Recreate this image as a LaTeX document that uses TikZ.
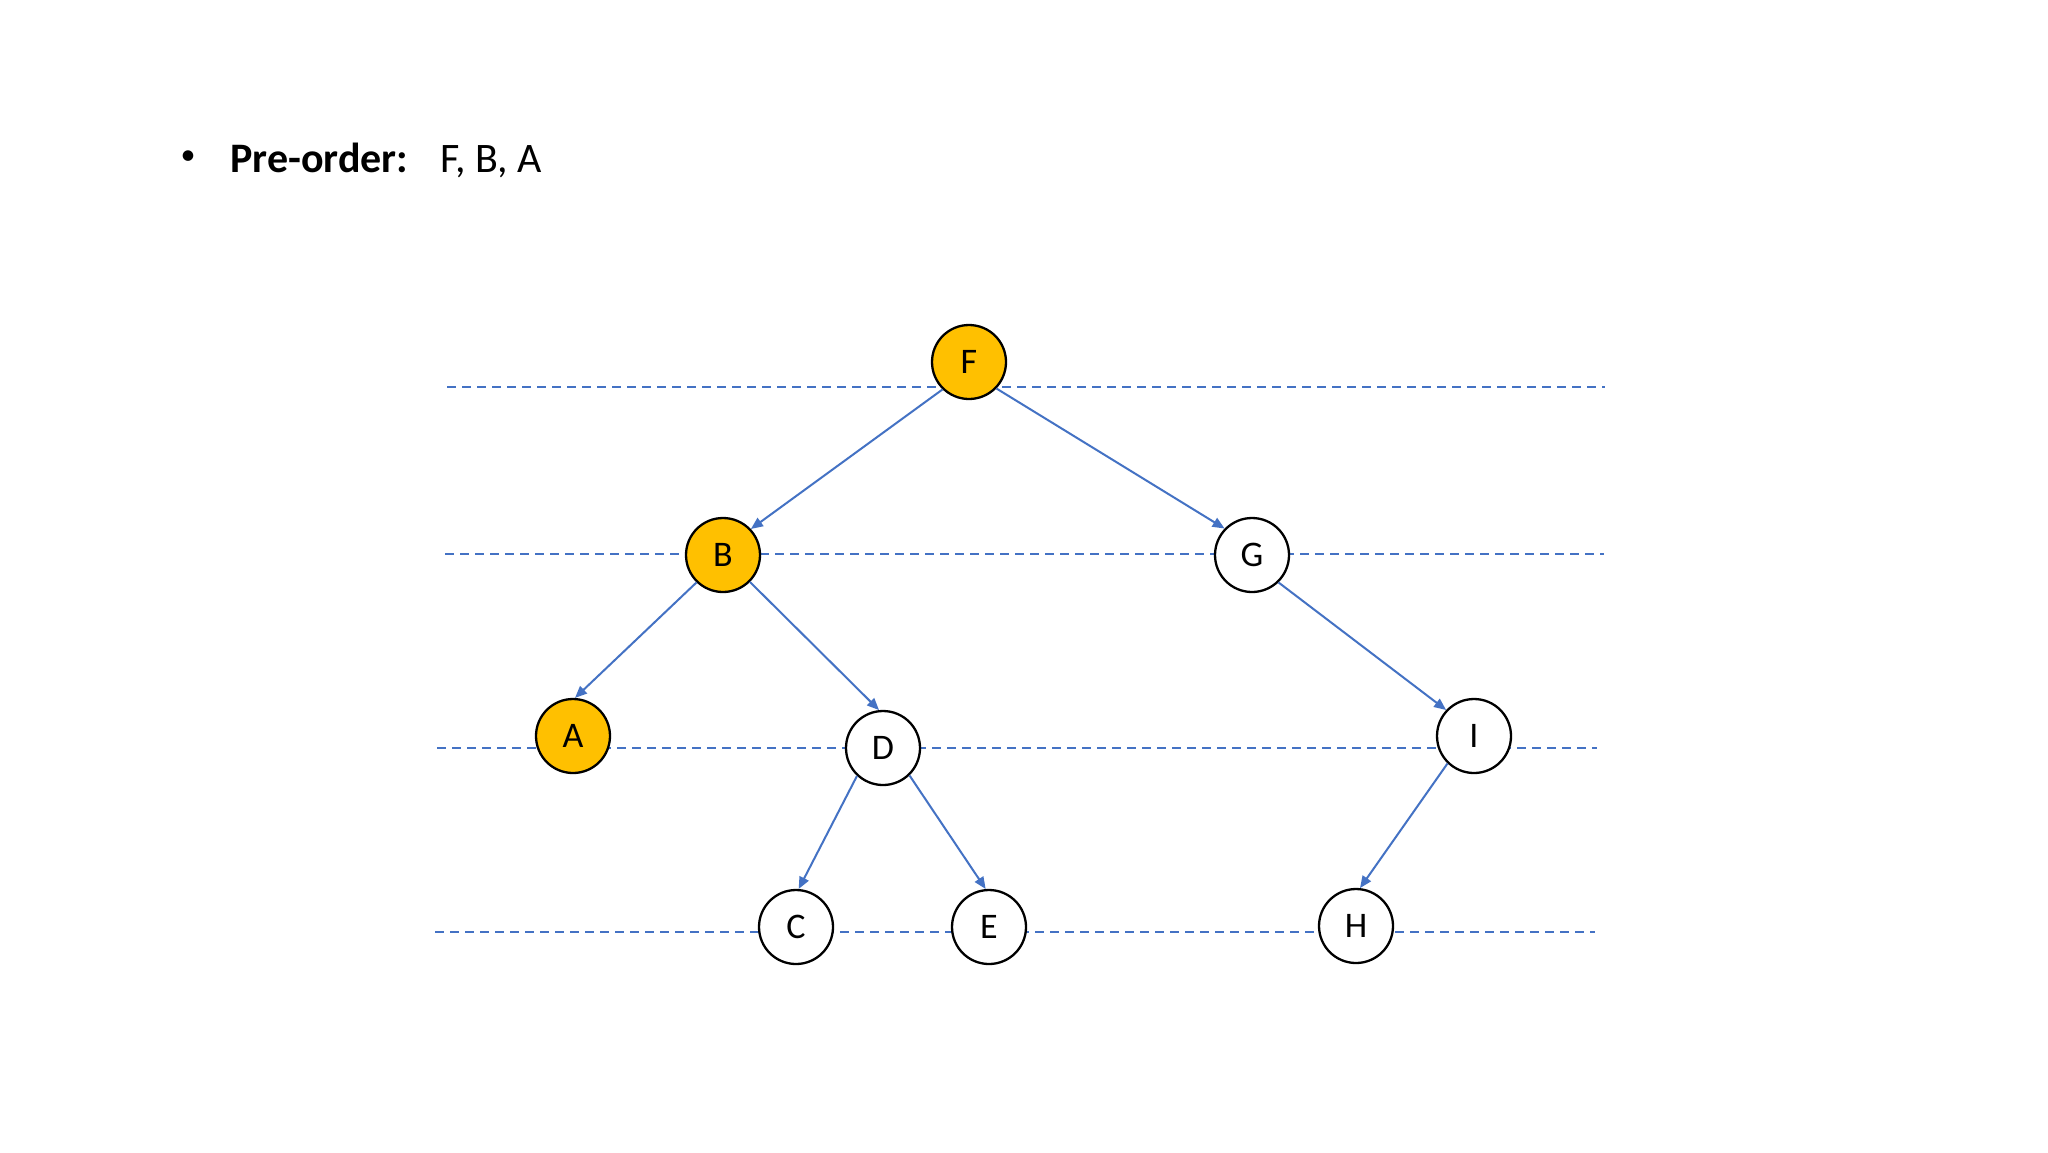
\documentclass[tikz,border=0pt]{standalone}
\usepackage{fontspec}
\setmainfont{Carlito}
\usetikzlibrary{arrows.meta}
\definecolor{treeorange}{HTML}{FFC000}
\definecolor{treeblue}{HTML}{4472C4}
\begin{document}
\begin{tikzpicture}[x=0.5pt,y=-0.5pt,
  treenode/.style={circle, draw=black, line width=1.15pt, fill=white, minimum size=37pt, inner sep=0pt, font=\fontsize{18}{20}\selectfont},
  visited/.style={treenode, fill=treeorange},
  levelline/.style={draw=treeblue, line width=1pt, dash pattern=on 4.5pt off 3pt},
  edge/.style={draw=treeblue, line width=1pt, -{Triangle[length=6pt,width=5pt]}},
  textlabel/.style={anchor=base west, inner sep=0pt, font=\fontsize{21}{25}\selectfont}]
\useasboundingbox[fill=white] (0,0) rectangle (2048,1152);
% level lines
\coordinate (l1a) at (447,387); \coordinate (l1b) at (1605,387);
\coordinate (l2a) at (445,554); \coordinate (l2b) at (1604,554);
\coordinate (l3a) at (437,748); \coordinate (l3b) at (1597,748);
\coordinate (l4a) at (435,932); \coordinate (l4b) at (1595,932);
\draw[levelline] (l1a) -- (l1b);
\draw[levelline] (l2a) -- (l2b);
\draw[levelline] (l3a) -- (l3b);
\draw[levelline] (l4a) -- (l4b);
% nodes
\node[visited] (F) at (969,362) {F};
\node[visited] (B) at (723,555) {B};
\node[treenode] (G) at (1252,555) {G};
\node[visited] (A) at (573,736) {A};
\node[treenode] (D) at (883,748) {D};
\node[treenode] (I) at (1474,736) {I};
\node[treenode] (C) at (796,927) {C};
\node[treenode] (E) at (989,927) {E};
\node[treenode] (H) at (1356,926) {H};
% edges
\draw[edge] (F.226) -- (B.43);
\draw[edge] (F.316) -- (G.136);
\draw[edge] (B.226) -- (A.87);
\draw[edge] (B.315) -- (D.96);
\draw[edge] (G.314) -- (I.137);
\draw[edge] (D.227) -- (C.86);
\draw[edge] (D.314) -- (E.95);
\draw[edge] (I.226) -- (H.84);
% title
\node[inner sep=0pt, font=\fontsize{15}{18}\selectfont] (bullet) at (188,158) {•};
\node[textlabel] (title) at (230,172) {\textbf{Pre-order:}};
\node[textlabel] (seq) at (440,172) {F, B, A};
\end{tikzpicture}
\end{document}
